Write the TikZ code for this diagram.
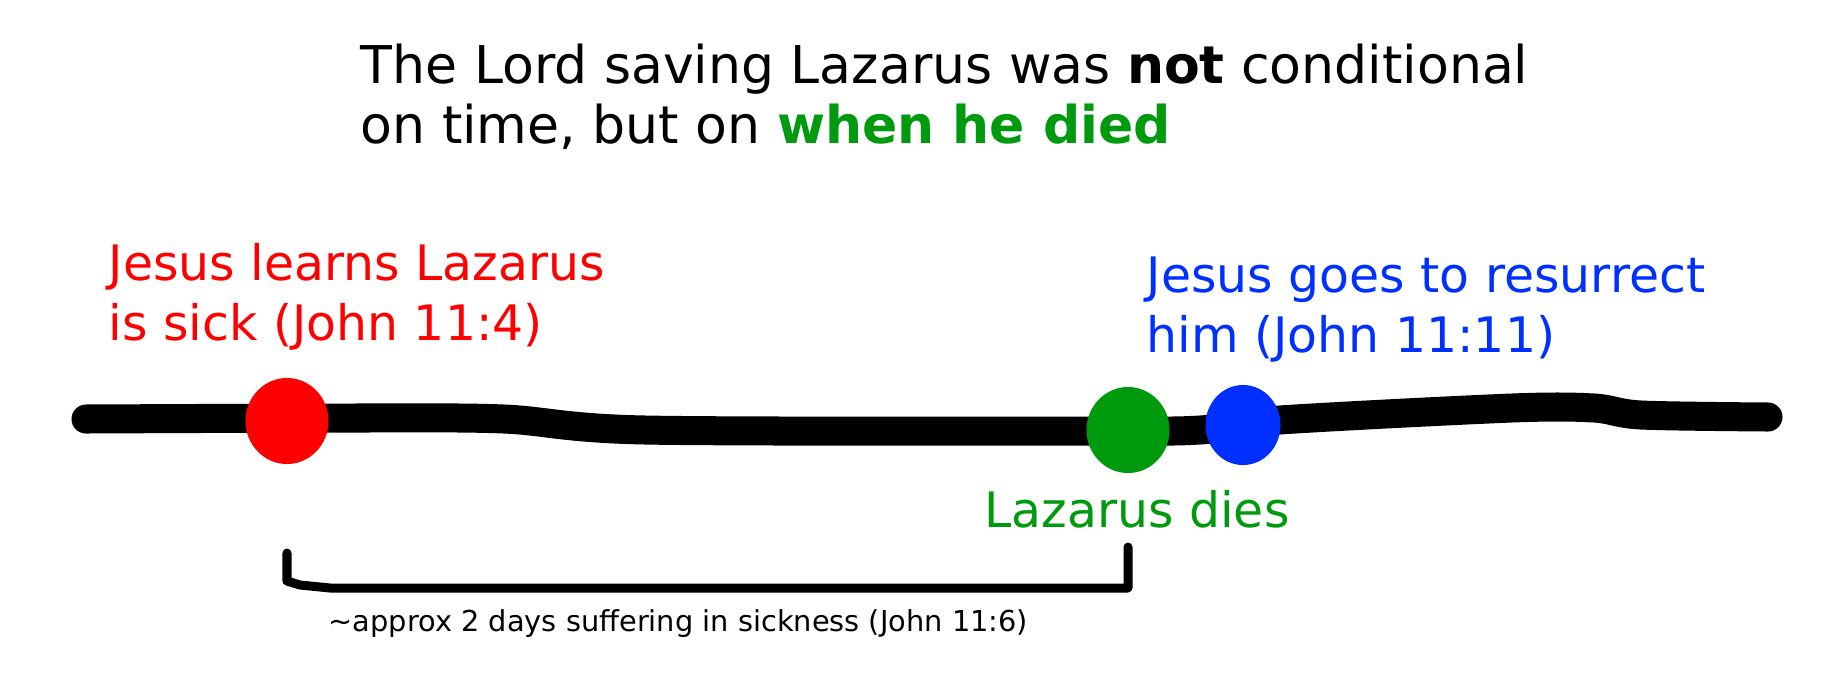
\documentclass[tikz,border=0pt]{standalone}
\usepackage{fontspec}
\setmainfont{DejaVu Sans}
\usetikzlibrary{shapes.geometric}
\definecolor{lzred}{HTML}{FF0000}
\definecolor{lzgreen}{HTML}{009A0E}
\definecolor{lzblue}{HTML}{0030FF}

\begin{document}
\begin{tikzpicture}[x=0.01cm, y=-0.01cm,
  blob/.style={ellipse, inner sep=0pt, draw=none},
  bigtext/.style={anchor=base west, align=left, inner sep=0pt,
                  font=\fontsize{13.9}{16.8}\selectfont}]

% Canvas
\useasboundingbox (0,0) rectangle (1838,678);

% Heading (base = last line)
\node[bigtext, font=\fontsize{14.8}{16.8}\selectfont] (heading) at (360,143)
  {The Lord saving Lazarus was \textbf{not} conditional\\
   on time, but on \textcolor{lzgreen}{\textbf{when he died}}};

% Timeline
\draw[line width=0.29cm, line cap=round] plot[smooth, tension=0.5] coordinates
  {(86,419) (352,418) (504,419) (645,430) (1090,431) (1200,430)
   (1280,420) (1512,408) (1594,408) (1641,415) (1768,417)};

% Events
\node[blob, fill=lzred, minimum width=0.83cm, minimum height=0.86cm] (sick) at (287,421) {};
\node[blob, fill=lzgreen, minimum width=0.83cm, minimum height=0.86cm] (dies) at (1128,430) {};
\node[blob, fill=lzblue, minimum width=0.75cm, minimum height=0.8cm] (raise) at (1243,425) {};

% Event labels
\node[bigtext, text=lzred] (sicktext) at (108,340)
  {Jesus learns Lazarus\\is sick (John 11:4)};
\node[bigtext, text=lzblue] (raisetext) at (1146,352)
  {Jesus goes to resurrect\\him (John 11:11)};
\node[bigtext, anchor=base, text=lzgreen] (diestext) at (1137,527) {Lazarus dies};

% Waiting span
\draw[line width=0.09cm, line cap=round, line join=round]
  (sick.south |- 0,553) -- (sick.south |- 0,581) -- (300,585) -- (330,588)
  -- (dies.south |- 0,588) -- (dies.south |- 0,547);
\node[anchor=base west, inner sep=0pt, font=\fontsize{8.2}{10}\selectfont] (spantext) at (328,631)
  {\textasciitilde approx 2 days suffering in sickness (John 11:6)};

\end{tikzpicture}
\end{document}
